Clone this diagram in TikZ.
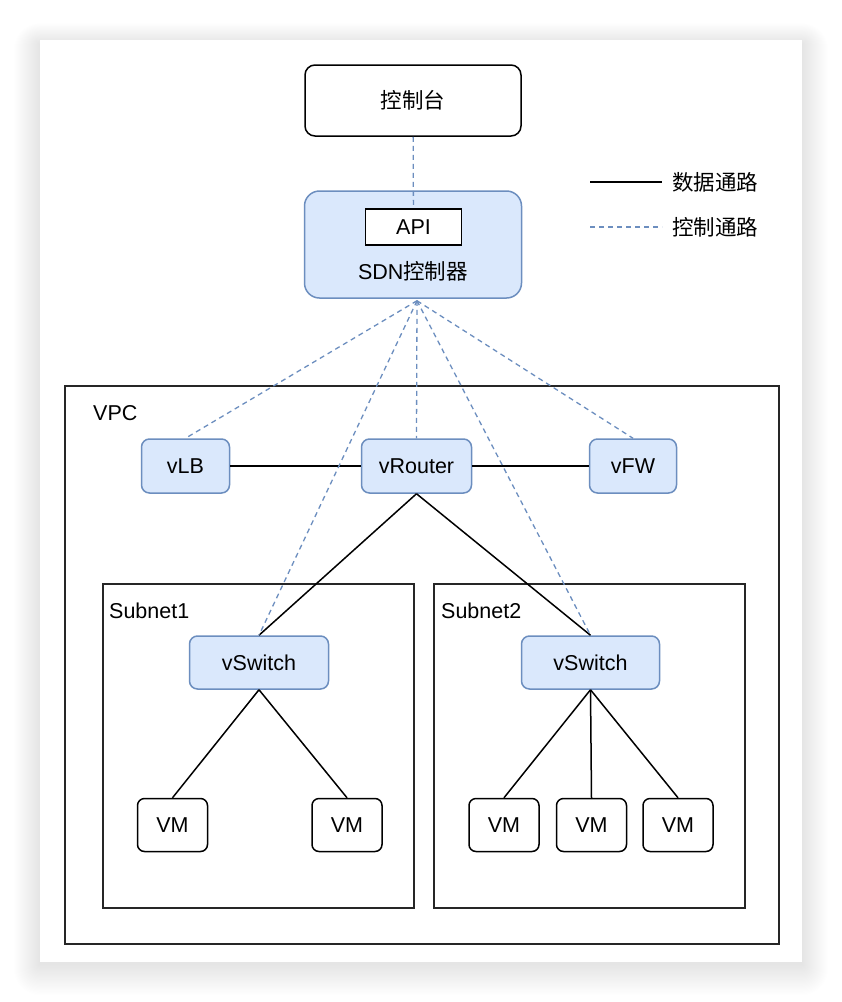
\documentclass[tikz,border=0pt]{standalone}
\usepackage{fontspec}
\setmainfont{Liberation Sans}
\newfontfamily\cjk{Noto Sans CJK SC}
\definecolor{ctrlblue}{HTML}{6C8EBF}
\definecolor{boxblue}{HTML}{DAE8FC}

\begin{document}
\begin{tikzpicture}[
        x=1pt, y=-1pt,
        font=\fontsize{21.5}{25}\selectfont,
        plain/.style={rectangle, draw=black, line width=1.5pt, fill=white, rounded corners=10pt, text centered},
        vnf/.style={rectangle, draw=ctrlblue, line width=1.5pt, fill=boxblue, rounded corners=8pt,
                    minimum height=54pt, text centered},
        vm/.style={plain, minimum width=70pt, minimum height=53pt, rounded corners=7pt},
        area/.style={rectangle, draw=black!85, line width=1.8pt, anchor=north west},
        arealabel/.style={anchor=west, inner sep=0pt},
        datapath/.style={line width=1.5pt, black},
        ctrlpath/.style={line width=1.3pt, ctrlblue, dash pattern=on 5pt off 4pt}
    ]
        % card with soft shadow
        \useasboundingbox[fill=white] (0,0) rectangle (842,1002);
        \foreach \i in {1,...,26}
            \fill[black, opacity=0.003, rounded corners=\i pt] (40-\i, 44-0.8*\i) rectangle (802+\i, 964+1.2*\i);
        \fill[white] (40,40) rectangle (802,962);

        % controller part
        \node[plain, minimum width=216pt, minimum height=71pt] (console) at (413,100.5) {\cjk 控制台};
        \node[vnf, minimum width=217pt, minimum height=107pt, rounded corners=15pt, below of=console, node distance=144pt] (sdn) {};
        \node[plain, sharp corners, minimum width=96pt, minimum height=36pt, above of=sdn, node distance=17.5pt, xshift=0.5pt] (api) {API};
        \node[below of=sdn, node distance=27pt] (sdnlabel) {SDN\cjk 控制器};

        % legend
        \node[anchor=west, inner xsep=10pt, inner ysep=0pt] (legdata) at (662,182) {\cjk 数据通路};
        \node[anchor=west, inner xsep=10pt, inner ysep=0pt] (legctrl) at (662,227) {\cjk 控制通路};
        \coordinate (legdatastart) at (590,182);
        \coordinate (legctrlstart) at (590,227);

        % areas
        \node[area, minimum width=714pt, minimum height=558pt] (vpc) at (64,385) {};
        \node[area, minimum width=311pt, minimum height=324pt] (subnet1) at (102,583) {};
        \node[area, minimum width=311pt, minimum height=324pt] (subnet2) at (433,583) {};
        \node[arealabel] (vpclabel) at (93,413) {VPC};
        \node[arealabel] (subnet1label) at (109,611) {Subnet1};
        \node[arealabel] (subnet2label) at (441,611) {Subnet2};

        % network functions
        \node[vnf, minimum width=110pt, below of=sdn, node distance=221.5pt, xshift=3.5pt] (vrouter) {vRouter};
        \node[vnf, minimum width=88pt, left of=vrouter, node distance=231pt] (vlb) {vLB};
        \node[vnf, minimum width=87pt, right of=vrouter, node distance=216.5pt] (vfw) {vFW};

        \node[vnf, minimum width=139pt, minimum height=53pt, below of=vrouter, node distance=196.5pt, xshift=-157.5pt] (sw1) {vSwitch};
        \node[vnf, minimum width=138pt, minimum height=53pt, below of=vrouter, node distance=196.5pt, xshift=174pt] (sw2) {vSwitch};

        \node[vm, below of=sw1, node distance=162.5pt, xshift=-86.5pt] (vm11) {VM};
        \node[vm, below of=sw1, node distance=162.5pt, xshift=88pt] (vm12) {VM};
        \node[vm, below of=sw2, node distance=162.5pt, xshift=-86.5pt] (vm21) {VM};
        \node[vm, below of=sw2, node distance=162.5pt, xshift=1pt] (vm22) {VM};
        \node[vm, below of=sw2, node distance=162.5pt, xshift=87.5pt] (vm23) {VM};

        % data paths
        \draw[datapath] (legdatastart) -- (legdata);
        \draw[datapath] (vlb) -- (vrouter);
        \draw[datapath] (vrouter) -- (vfw);
        \draw[datapath] (vrouter.south) -- (sw1.north);
        \draw[datapath] (vrouter.south) -- (sw2.north);
        \foreach \v in {vm11, vm12}
            \draw[datapath] (sw1.south) -- (\v.north);
        \foreach \v in {vm21, vm22, vm23}
            \draw[datapath] (sw2.south) -- (\v.north);

        % control paths
        \draw[ctrlpath] (legctrlstart) -- (legctrl);
        \draw[ctrlpath] (console) -- (api);
        \coordinate (hub) at ([xshift=4pt, yshift=-2pt]sdn.south);
        \foreach \t in {vlb, vrouter, vfw, sw1, sw2}
            \draw[ctrlpath] (hub) -- (\t.north);
    \end{tikzpicture}
\end{document}
